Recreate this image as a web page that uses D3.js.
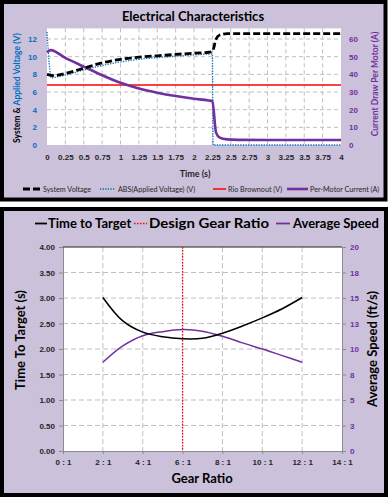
<!DOCTYPE html>
<html><head><meta charset="utf-8">
<script src="https://cdn.jsdelivr.net/npm/d3@7/dist/d3.min.js"></script>
<style>
html,body{margin:0;padding:0;background:#fff;}
svg{display:block;font-family:Lato,"Open Sans",sans-serif;}
</style></head><body>
<svg id="chart" width="392" height="499"></svg>
<script>
// ---------- Top chart data ----------
const elecTimeTicks = [0,0.25,0.5,0.75,1,1.25,1.5,1.75,2,2.25,2.5,2.75,3,3.25,3.5,3.75,4];
const voltTicks = [0,2,4,6,8,10,12];
const currentTicks = [0,10,20,30,40,50,60];

const sysTime       = [0, 0.1, 0.25, 0.5, 0.75, 1.0, 1.25, 1.5, 1.75, 2.0, 2.2, 2.25, 2.3, 2.35, 2.45, 2.6, 3.0, 3.5, 4.0];
const systemVoltage = [8.0, 7.85, 8.1, 8.7, 9.3, 9.7, 9.95, 10.1, 10.25, 10.4, 10.5, 10.6, 12.0, 12.45, 12.6, 12.6, 12.6, 12.6, 12.6];

const appliedTime    = [0, 0.06, 0.1, 0.25, 0.5, 0.75, 1.0, 1.25, 1.5, 1.75, 2.0, 2.25, 2.26, 2.5, 3.0, 3.5, 4.0];
const appliedVoltage = [12.8, 7.6, 7.65, 7.9, 8.5, 9.0, 9.4, 9.7, 9.9, 10.05, 10.2, 10.3, 0, 0, 0, 0, 0];

const brownoutTime    = [0, 4];
const brownoutVoltage = [6.8, 6.8];

const currentTime  = [0, 0.05, 0.25, 0.5, 0.75, 1.0, 1.25, 1.5, 1.75, 2.0, 2.2, 2.25, 2.3, 2.35, 2.45, 2.6, 3.0, 3.5, 4.0];
const motorCurrent = [52.5, 53.7, 49.3, 44.4, 39.5, 35.2, 32.0, 29.6, 27.7, 26.2, 25.2, 24.8, 7.0, 4.2, 3.2, 2.9, 2.8, 2.8, 2.8];

// ---------- Bottom chart data ----------
const gearTicks = [0,2,4,6,8,10,12,14];
const gearTickLabels = ["0 : 1","2 : 1","4 : 1","6 : 1","8 : 1","10 : 1","12 : 1","14 : 1"];
const timeTicks = [0,0.5,1,1.5,2,2.5,3,3.5,4];
const timeTickLabels = ["0.00","0.50","1.00","1.50","2.00","2.50","3.00","3.50","4.00"];
const speedTicks = [0,2.5,5,7.5,10,12.5,15,17.5,20];
const speedTickLabels = ["0","3","5","8","10","13","15","18","20"];

const gearRatio    = [2, 3, 4, 5, 6, 7, 8, 9, 10, 11, 12];
const timeToTarget = [3.01, 2.55, 2.33, 2.24, 2.20, 2.21, 2.31, 2.45, 2.61, 2.79, 3.01];
const averageSpeed = [8.7, 10.3, 11.3, 11.7, 11.9, 11.75, 11.25, 10.6, 10.0, 9.35, 8.7];
const designGearRatio = 6;

// ---------- Drawing ----------
const svg = d3.select("#chart");
const LAV = "#CCC1DA", BLUE = "#0070C0", PURPLE = "#7030A0", RED = "#FF0000", GRID = "#BFBFBF", TXT = "#262626";

// panels
svg.append("rect").attr("x",2).attr("y",2).attr("width",383.5).attr("height",197.5)
  .attr("fill",LAV).attr("stroke","#000").attr("stroke-width",4);
svg.append("rect").attr("x",2).attr("y",209).attr("width",384).attr("height",286)
  .attr("fill",LAV).attr("stroke","#000").attr("stroke-width",4);

// ===== TOP CHART =====
const T = {l:47, r:341, t:28.4, b:145};
const xT = d3.scaleLinear().domain([0,4]).range([T.l,T.r]);
const yV = d3.scaleLinear().domain([0,13.2]).range([T.b,T.t]);
const yA = d3.scaleLinear().domain([0,66]).range([T.b,T.t]);

svg.append("rect").attr("x",T.l).attr("y",T.t).attr("width",T.r-T.l).attr("height",T.b-T.t).attr("fill","#fff");

// grid
const gT = svg.append("g");
gT.selectAll("line.h").data(voltTicks.filter(d=>d>0)).join("line")
  .attr("x1",T.l).attr("x2",T.r).attr("y1",d=>yV(d)).attr("y2",d=>yV(d))
  .attr("stroke",GRID).attr("stroke-dasharray","4,3");
gT.selectAll("line.v").data(elecTimeTicks.filter(d=>d>0&&d<4)).join("line")
  .attr("y1",T.t).attr("y2",T.b).attr("x1",d=>xT(d)).attr("x2",d=>xT(d))
  .attr("stroke",GRID).attr("stroke-dasharray","4,3");

// axes
const axL = svg.append("g").attr("transform",`translate(${T.l},0)`)
  .call(d3.axisLeft(yV).tickValues(voltTicks).tickSize(0).tickPadding(10).tickFormat(d3.format("d")));
axL.select(".domain").remove();
axL.selectAll("text").attr("fill",BLUE).attr("font-size",8).attr("font-weight","bold");

const axR = svg.append("g").attr("transform",`translate(${T.r},0)`)
  .call(d3.axisRight(yA).tickValues(currentTicks).tickSize(0).tickPadding(8).tickFormat(d3.format("d")));
axR.select(".domain").remove();
axR.selectAll("text").attr("fill",PURPLE).attr("font-size",8).attr("font-weight","bold");

const axB = svg.append("g").attr("transform",`translate(0,${T.b})`)
  .call(d3.axisBottom(xT).tickValues(elecTimeTicks).tickSize(0).tickPadding(9).tickFormat(d=>String(d)));
axB.select(".domain").remove();
axB.selectAll("text").attr("fill",TXT).attr("font-size",8).attr("font-weight","bold");

// lines
const lineTop = (xs, ys, yS) => d3.line().x((d,i)=>xT(xs[i])).y(d=>yS(d)).curve(d3.curveMonotoneX)(ys);
svg.append("path").attr("d",lineTop(brownoutTime,brownoutVoltage,yV)).attr("fill","none").attr("stroke",RED).attr("stroke-width",1.5);
svg.append("path").attr("d",lineTop(appliedTime,appliedVoltage,yV)).attr("fill","none").attr("stroke",BLUE).attr("stroke-width",1.3).attr("stroke-dasharray","1.3,1.3");
svg.append("path").attr("d",lineTop(currentTime,motorCurrent,yA)).attr("fill","none").attr("stroke",PURPLE).attr("stroke-width",2.6);
svg.append("path").attr("d",lineTop(sysTime,systemVoltage,yV)).attr("fill","none").attr("stroke","#000").attr("stroke-width",2.8).attr("stroke-dasharray","7,3");

// titles
svg.append("text").attr("x",193).attr("y",21).attr("text-anchor","middle").attr("font-size",13).attr("font-weight","bold").attr("fill","#000").text("Electrical Characteristics");
svg.append("text").attr("x",195).attr("y",177).attr("text-anchor","middle").attr("font-size",9).attr("font-weight","bold").attr("fill",TXT).text("Time (s)");
const lt = svg.append("text").attr("transform","translate(20,88) rotate(-90)").attr("text-anchor","middle").attr("font-size",8.5).attr("font-weight","bold");
lt.append("tspan").attr("fill","#000").text("System & ");
lt.append("tspan").attr("fill",BLUE).text("Applied Voltage (V)");
svg.append("text").attr("transform","translate(378,84) rotate(-90)").attr("text-anchor","middle").attr("font-size",8.5).attr("font-weight","bold").attr("fill",PURPLE).text("Current Draw Per Motor (A)");

// top legend
const ly = 189;
const lg = svg.append("g").attr("font-size",7.2).attr("fill",TXT);
lg.append("line").attr("x1",23).attr("x2",40).attr("y1",ly).attr("y2",ly).attr("stroke","#000").attr("stroke-width",2.8).attr("stroke-dasharray","7,3");
lg.append("text").attr("x",43).attr("y",ly+2.6).text("System Voltage");
lg.append("line").attr("x1",100).attr("x2",115).attr("y1",ly).attr("y2",ly).attr("stroke",BLUE).attr("stroke-width",1.3).attr("stroke-dasharray","1.3,1.3");
lg.append("text").attr("x",118).attr("y",ly+2.6).text("ABS(Applied Voltage) (V)");
lg.append("line").attr("x1",213).attr("x2",226).attr("y1",ly).attr("y2",ly).attr("stroke",RED).attr("stroke-width",1.5);
lg.append("text").attr("x",228).attr("y",ly+2.6).text("Rio Brownout (V)");
lg.append("line").attr("x1",287).attr("x2",308).attr("y1",ly).attr("y2",ly).attr("stroke",PURPLE).attr("stroke-width",2.6);
lg.append("text").attr("x",310).attr("y",ly+2.6).text("Per-Motor Current (A)");

// ===== BOTTOM CHART =====
const B = {l:63, r:342, t:247, b:451};
const xB = d3.scaleLinear().domain([0,14]).range([B.l,B.r]);
const yT = d3.scaleLinear().domain([0,4]).range([B.b,B.t]);
const yS = d3.scaleLinear().domain([0,20]).range([B.b,B.t]);

svg.append("rect").attr("x",B.l).attr("y",B.t).attr("width",B.r-B.l).attr("height",B.b-B.t).attr("fill","#fff");
const gB = svg.append("g");
gB.selectAll("line.h").data(timeTicks.filter(d=>d>0&&d<4)).join("line")
  .attr("x1",B.l).attr("x2",B.r).attr("y1",d=>yT(d)).attr("y2",d=>yT(d))
  .attr("stroke",GRID).attr("stroke-dasharray","5,3");
gB.selectAll("line.v").data(gearTicks.filter(d=>d>0&&d<14)).join("line")
  .attr("y1",B.t).attr("y2",B.b).attr("x1",d=>xB(d)).attr("x2",d=>xB(d))
  .attr("stroke",GRID).attr("stroke-dasharray","5,3");

const bL = svg.append("g").attr("transform",`translate(${B.l},0)`)
  .call(d3.axisLeft(yT).tickValues(timeTicks).tickSize(4).tickPadding(4).tickFormat((d,i)=>timeTickLabels[i]));
bL.select(".domain").attr("stroke","#8C8C8C");
bL.selectAll(".tick line").attr("stroke","#8C8C8C");
bL.selectAll("text").attr("fill",TXT).attr("font-size",8).attr("font-weight","bold");

const bR = svg.append("g").attr("transform",`translate(${B.r},0)`)
  .call(d3.axisRight(yS).tickValues(speedTicks).tickSize(4).tickPadding(4).tickFormat((d,i)=>speedTickLabels[i]));
bR.select(".domain").attr("stroke","#8C8C8C");
bR.selectAll(".tick line").attr("stroke","#8C8C8C");
bR.selectAll("text").attr("fill",PURPLE).attr("font-size",8).attr("font-weight","bold");

const bB = svg.append("g").attr("transform",`translate(0,${B.b})`)
  .call(d3.axisBottom(xB).tickValues(gearTicks).tickSize(3).tickPadding(5).tickFormat((d,i)=>gearTickLabels[i]));
bB.select(".domain").attr("stroke","#8C8C8C");
bB.selectAll(".tick line").attr("stroke","#8C8C8C");
bB.selectAll("text").attr("fill",TXT).attr("font-size",8).attr("font-weight","bold");

svg.append("line").attr("x1",B.l).attr("x2",B.r).attr("y1",B.t).attr("y2",B.t).attr("stroke","#222").attr("stroke-width",1);

// design ratio line
svg.append("line").attr("x1",xB(designGearRatio)).attr("x2",xB(designGearRatio)).attr("y1",B.t).attr("y2",B.b)
  .attr("stroke",RED).attr("stroke-width",1.3).attr("stroke-dasharray","1.5,1.5");

const lineB = (ys, yScale) => d3.line().x((d,i)=>xB(gearRatio[i])).y(d=>yScale(d)).curve(d3.curveCatmullRom.alpha(0.5))(ys);
svg.append("path").attr("d",lineB(averageSpeed,yS)).attr("fill","none").attr("stroke",PURPLE).attr("stroke-width",1.5);
svg.append("path").attr("d",lineB(timeToTarget,yT)).attr("fill","none").attr("stroke","#000").attr("stroke-width",1.5);

// axis titles
svg.append("text").attr("transform","translate(25,340) rotate(-90)").attr("text-anchor","middle").attr("font-size",13).attr("font-weight","bold").attr("fill","#000").text("Time To Target (s)");
svg.append("text").attr("transform","translate(377,349) rotate(-90)").attr("text-anchor","middle").attr("font-size",13).attr("font-weight","bold").attr("fill","#000").text("Average Speed (ft/s)");
svg.append("text").attr("x",202).attr("y",483).attr("text-anchor","middle").attr("font-size",13).attr("font-weight","bold").attr("fill","#000").text("Gear Ratio");

// bottom legend
const by = 223.5;
const bg = svg.append("g").attr("font-size",13).attr("font-weight","bold").attr("fill","#000");
bg.append("line").attr("x1",35).attr("x2",47).attr("y1",by).attr("y2",by).attr("stroke","#000").attr("stroke-width",1.8);
bg.append("text").attr("x",48).attr("y",228).text("Time to Target");
bg.append("line").attr("x1",134).attr("x2",147).attr("y1",by).attr("y2",by).attr("stroke",RED).attr("stroke-width",1.5).attr("stroke-dasharray","1.5,1.5");
bg.append("text").attr("x",149).attr("y",228).attr("textLength",120).attr("lengthAdjust","spacingAndGlyphs").text("Design Gear Ratio");
bg.append("line").attr("x1",276).attr("x2",290).attr("y1",by).attr("y2",by).attr("stroke",PURPLE).attr("stroke-width",1.8);
bg.append("text").attr("x",293).attr("y",228).text("Average Speed");
</script>
</body></html>
